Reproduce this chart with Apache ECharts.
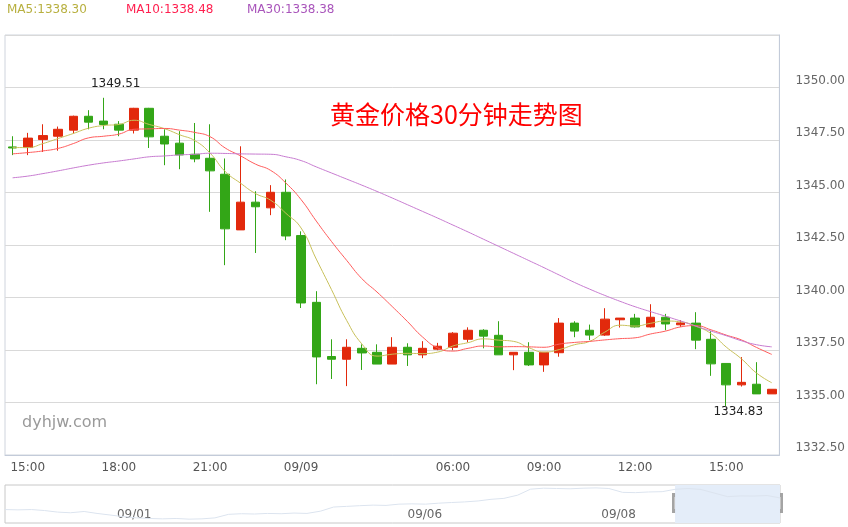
<!DOCTYPE html>
<html><head><meta charset="utf-8">
<script src="https://cdn.jsdelivr.net/npm/echarts@6/dist/echarts.min.js"></script>
<style>html,body{margin:0;padding:0;background:#fff}#c{width:848px;height:527px}</style>
</head><body><div id="c"></div>
<script>
// ---- data ----
const categories = ['14:30','15:00','15:30','16:00','16:30','17:00','17:30','18:00','18:30','19:00','19:30','20:00','20:30','21:00','21:30','22:00','22:30','23:00','23:30','09/09','00:30','01:00','01:30','02:00','02:30','03:00','03:30','04:00','04:30','06:00','06:30','07:00','07:30','08:00','08:30','09:00','09:30','10:00','10:30','11:00','11:30','12:00','12:30','13:00','13:30','14:00','14:30','15:00','15:30','16:00','16:30'];
const shownTimeLabels = ['15:00','18:00','21:00','09/09','06:00','09:00','12:00'];
// [open, close, low, high]
const ohlc = [
[1347.17,1347.12,1346.78,1347.68],[1347.14,1347.59,1346.78,1347.84],[1347.52,1347.71,1346.93,1348.25],[1347.68,1348.01,1346.99,1348.14],
[1347.97,1348.63,1347.81,1348.66],[1348.63,1348.35,1348.01,1348.92],[1348.40,1348.24,1348.01,1349.51],[1348.25,1347.97,1347.68,1348.40],
[1347.97,1349.01,1347.81,1349.03],[1349.01,1347.65,1347.12,1349.03],[1347.68,1347.31,1346.30,1348.01],[1347.35,1346.79,1346.11,1347.92],
[1346.82,1346.60,1346.44,1348.31],[1346.63,1346.03,1344.08,1348.25],[1345.87,1343.27,1341.54,1346.62],[1343.22,1344.54,1343.22,1347.20],
[1344.54,1344.32,1342.12,1345.06],[1344.27,1345.01,1343.92,1345.35],[1345.01,1342.93,1342.73,1345.62],[1342.95,1339.74,1339.50,1343.15],
[1339.77,1337.17,1335.87,1340.30],[1337.19,1337.06,1336.12,1338.01],[1337.06,1337.63,1335.78,1338.01],[1337.58,1337.36,1336.55,1337.77],
[1337.39,1336.83,1336.83,1337.77],[1336.83,1337.63,1336.83,1338.11],[1337.63,1337.27,1336.74,1337.82],[1337.27,1337.58,1337.11,1337.92],
[1337.54,1337.68,1337.49,1337.84],[1337.63,1338.30,1337.49,1338.35],[1338.01,1338.44,1337.87,1338.58],[1338.44,1338.16,1337.58,1338.49],
[1338.20,1337.27,1337.27,1338.87],[1337.27,1337.39,1336.54,1337.39],[1337.39,1336.79,1336.74,1337.87],[1336.79,1337.39,1336.46,1337.39],
[1337.37,1338.78,1337.18,1339.02],[1338.78,1338.40,1338.11,1338.87],[1338.44,1338.21,1337.97,1338.71],[1338.21,1338.97,1338.17,1339.49],
[1338.94,1339.02,1338.57,1339.02],[1339.02,1338.60,1338.57,1339.22],[1338.60,1339.06,1338.57,1339.68],[1339.06,1338.74,1338.44,1339.22],
[1338.70,1338.79,1338.60,1338.92],[1338.78,1337.97,1337.54,1339.30],[1338.01,1336.84,1336.27,1338.40],[1336.86,1335.84,1334.83,1336.86],
[1335.84,1335.96,1335.76,1337.16],[1335.87,1335.41,1335.41,1336.92],[1335.41,1335.63,1335.41,1335.63]
];
const ma5 = [1347.14,1347.14,1347.33,1347.57,1347.81,1348.06,1348.19,1348.24,1348.44,1348.24,
1348.04,1347.75,1347.47,1346.88,1346.00,1345.45,1344.95,1344.63,1344.01,1343.31,
1341.83,1340.38,1338.91,1337.79,1337.21,1337.30,1337.34,1337.33,1337.40,1337.69,
1337.85,1338.03,1337.97,1337.91,1337.61,1337.40,1337.52,1337.75,1337.91,1338.35,
1338.68,1338.64,1338.77,1338.88,1338.84,1338.63,1338.28,1337.64,1337.08,1336.40,1335.94];
const ma10 = [1346.84,1346.90,1346.98,1347.10,1347.33,1347.60,1347.68,1347.78,1348.01,1348.03,
1348.05,1347.97,1347.86,1347.66,1347.12,1346.75,1346.35,1346.05,1345.45,1344.66,
1343.64,1342.67,1341.77,1340.90,1340.26,1339.57,1338.86,1338.12,1337.60,1337.45,
1337.58,1337.69,1337.65,1337.66,1337.65,1337.63,1337.78,1337.86,1337.91,1337.98,
1338.04,1338.08,1338.26,1338.40,1338.60,1338.66,1338.46,1338.21,1337.98,1337.62,1337.29];
const ma30 = [1345.70,1345.78,1345.90,1346.03,1346.17,1346.30,1346.41,1346.50,1346.60,1346.70,
1346.74,1346.79,1346.82,1346.87,1346.86,1346.84,1346.83,1346.82,1346.70,1346.52,
1346.22,1345.93,1345.64,1345.35,1345.05,1344.74,1344.42,1344.10,1343.78,1343.45,
1343.12,1342.78,1342.44,1342.10,1341.76,1341.42,1341.07,1340.72,1340.40,1340.10,
1339.82,1339.56,1339.33,1339.11,1338.88,1338.64,1338.40,1338.18,1337.94,1337.75,1337.65];
const legendNames = ['MA5','MA10','MA30'];
const legendValues = ['1338.30','1338.48','1338.38'];
const yMin = 1332.5, yMax = 1352.5, yStep = 2.5;
// overview (slider) shadow line: [position, price]
const overviewLine = [[0,1319.9],[1.6,1319.5],[3.3,1319.9],[4.9,1318.6],[6.5,1316.5],[8.1,1315.6],[9.8,1317.3],[11.4,1314.7],[13.0,1312.6],[14.6,1310.4],
[16.3,1308.7],[17.9,1307.9],[19.5,1307.4],[21.2,1307.9],[22.8,1307.0],[24.4,1307.4],[26.0,1308.7],[27.7,1313.5],[29.3,1314.3],[30.9,1313.9],
[32.5,1314.7],[34.2,1314.3],[35.8,1315.2],[37.4,1314.7],[39.1,1317.8],[40.7,1323.3],[42.3,1324.2],[43.9,1325.1],[45.6,1325.9],[47.2,1325.5],
[48.8,1327.2],[50.4,1327.6],[52.1,1327.2],[53.7,1328.5],[55.3,1329.4],[56.9,1330.2],[58.6,1331.5],[60.2,1333.7],[61.8,1335.0],[63.5,1339.3],
[65.1,1347.4],[66.7,1348.7],[68.3,1348.3],[70.0,1347.9],[71.6,1348.7],[73.2,1349.1],[74.8,1348.3],[76.5,1343.1],[78.1,1342.7],[79.7,1343.6],
[81.4,1344.0],[83.0,1347.2],[84.6,1348.3],[86.2,1347.0],[87.9,1342.0],[89.5,1337.3],[91.1,1338.3],[92.7,1338.1],[94.4,1338.8],[96,1335.6]];
const overviewTickLabels = {16:'09/01', 52:'09/06', 76:'09/08'};
const overviewWindow = [83, 96];

const FONT = 'DejaVu Sans';
const colUp = '#e2290c', colDown = '#33a617';
const maColors = ['#c8c05a','#ff5b5b','#c77bd0'];
const legendColors = ['#b8b040','#ff1f4f','#a955bb'];
const legendLefts = [2, 121, 242];

const chart = echarts.init(document.getElementById('c'), null, {renderer:'canvas'});
const isShown = (idx, val) => shownTimeLabels.indexOf(val) >= 0;
chart.setOption({
  animation: false,
  textStyle: {fontFamily: FONT},
  title: {text: '黄金价格30分钟走势图', left: 330, top: 102, padding: 0,
    textStyle: {fontSize: 25, color: '#ff0000', fontWeight: 'normal', fontFamily: 'Noto Sans CJK SC'}},
  legend: legendNames.map((n, i) => ({
    left: legendLefts[i], top: 3, padding: 0, icon: 'none', itemWidth: 0, itemGap: 0, selectedMode: false,
    data: [{name: n, textStyle: {color: legendColors[i]}}],
    formatter: nm => nm + ':' + legendValues[legendNames.indexOf(nm)],
    textStyle: {fontSize: 12, fontFamily: FONT}
  })),
  grid: [
    {left: 5, right: 67, top: 35, bottom: 72, show: true, borderColor: '#cfd4dd', borderWidth: 1},
    {left: 5, right: 68, top: 485, height: 38, show: true, borderColor: '#c8c8c8', borderWidth: 1}
  ],
  xAxis: [
    {type: 'category', data: categories, boundaryGap: true, gridIndex: 0,
     axisLine: {lineStyle: {color: '#c3cbd9'}},
     axisTick: {inside: true, length: 5, alignWithLabel: true, interval: isShown, lineStyle: {color: '#c3cbd9'}},
     axisLabel: {interval: isShown, color: '#555', fontSize: 12, margin: 7, fontFamily: FONT},
     splitLine: {show: false}},
    {type: 'value', gridIndex: 1, min: overviewWindow[1] - 96, max: 96, interval: 4,
     axisLine: {show: false}, axisTick: {show: false}, splitLine: {show: false},
     axisLabel: {inside: true, margin: 2, color: '#666', fontSize: 12, fontFamily: FONT,
       formatter: v => overviewTickLabels[v] || ''}}
  ],
  yAxis: [
    {type: 'value', position: 'right', gridIndex: 0, min: yMin, max: yMax, interval: yStep,
     axisLine: {show: true, lineStyle: {color: '#c3cbd9'}}, axisTick: {show: false},
     axisLabel: {formatter: v => v.toFixed(2), margin: 16, color: '#666', fontSize: 12, fontFamily: FONT,
       verticalAlign: 'bottom', lineHeight: 14, showMaxLabel: false},
     splitLine: {lineStyle: {color: '#d9d9d9'}}},
    {type: 'value', gridIndex: 1, min: 1301.8, max: 1353, show: false}
  ],
  series: [
    {type: 'candlestick', name: 'K', data: ohlc, barWidth: 9,
     itemStyle: {color: colUp, color0: colDown, borderColor: colUp, borderColor0: colDown, borderWidth: 1},
     markPoint: {
       symbol: 'circle', symbolSize: 1, itemStyle: {color: 'rgba(0,0,0,0)'},
       label: {show: true, position: 'inside', color: '#222', fontSize: 12, fontFamily: FONT,
         formatter: p => Number(p.value).toFixed(2)},
       data: [
         {type: 'max', valueDim: 'highest', label: {offset: [12, -14]}},
         {type: 'min', valueDim: 'lowest', label: {offset: [12, 6]}}
       ]
     }},
    {type: 'line', name: 'MA5', data: ma5, smooth: true, showSymbol: false, symbol: 'none',
     lineStyle: {width: 1, color: maColors[0]}, itemStyle: {color: maColors[0]}},
    {type: 'line', name: 'MA10', data: ma10, smooth: true, showSymbol: false, symbol: 'none',
     lineStyle: {width: 1, color: maColors[1]}, itemStyle: {color: maColors[1]}},
    {type: 'line', name: 'MA30', data: ma30, smooth: true, showSymbol: false, symbol: 'none',
     lineStyle: {width: 1, color: maColors[2]}, itemStyle: {color: maColors[2]}},
    {type: 'line', name: 'overview', xAxisIndex: 1, yAxisIndex: 1, data: overviewLine, showSymbol: false, symbol: 'none',
     lineStyle: {width: 1, color: '#dce4ef'}, silent: true,
     markArea: {silent: true, itemStyle: {color: '#e4edf9'},
       data: [[{xAxis: overviewWindow[0]}, {xAxis: overviewWindow[1]}]]}}
  ],
  graphic: [
    {type: 'text', left: 22, top: 415, style: {text: 'dyhjw.com', fontSize: 16, fill: '#9a9a9a', fontFamily: FONT}},
    {type: 'rect', left: 672, top: 493, shape: {width: 6, height: 20}, style: {fill: '#a4a4a4'}},
    {type: 'rect', left: 674.5, top: 497, shape: {width: 1, height: 12}, style: {fill: '#e6e6e6'}},
    {type: 'rect', left: 777, top: 493, shape: {width: 6, height: 20}, style: {fill: '#a4a4a4'}},
    {type: 'rect', left: 779.5, top: 497, shape: {width: 1, height: 12}, style: {fill: '#e6e6e6'}}
  ]
});
</script></body></html>
